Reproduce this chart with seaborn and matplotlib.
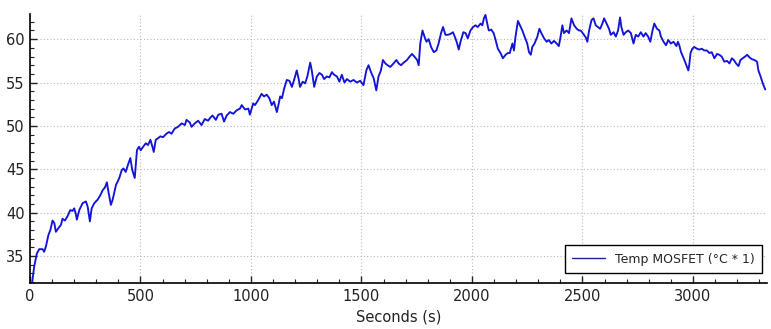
import matplotlib
matplotlib.use("Agg")
import matplotlib.pyplot as plt
from matplotlib.ticker import MultipleLocator
import seaborn as sns
import pandas as pd

seconds = [10, 19, 31, 42, 57, 64, 72, 83, 92, 102, 110, 117, 128, 140, 147, 158, 170, 182, 192, 200,
           207, 212, 223, 238, 253, 261, 271, 279, 291, 306, 318, 329, 339, 348, 355, 366, 374, 389, 397, 404,
           415, 423, 433, 443, 454, 463, 474, 484, 493, 501, 512, 524, 534, 545, 554, 560, 569, 580, 590, 602,
           617, 629, 640, 655, 670, 686, 701, 708, 723, 731, 746, 761, 776, 791, 806, 814, 826, 841, 852, 867,
           878, 890, 905, 920, 935, 950, 958, 973, 988, 995, 1010, 1018, 1033, 1048, 1059, 1071, 1083, 1094, 1104, 1117,
           1124, 1132, 1140, 1150, 1162, 1174, 1185, 1195, 1207, 1215, 1222, 1234, 1245, 1255, 1268, 1275, 1286, 1298, 1310, 1321,
           1331, 1343, 1355, 1366, 1376, 1389, 1400, 1411, 1423, 1434, 1449, 1464, 1479, 1494, 1509, 1522, 1532, 1543, 1555, 1567,
           1577, 1588, 1597, 1608, 1618, 1630, 1645, 1658, 1668, 1679, 1691, 1706, 1718, 1729, 1739, 1752, 1759, 1766, 1776, 1785,
           1794, 1804, 1815, 1827, 1839, 1849, 1860, 1869, 1880, 1890, 1902, 1914, 1925, 1933, 1940, 1948, 1961, 1971, 1981, 1993,
           2005, 2016, 2026, 2039, 2047, 2054, 2061, 2069, 2076, 2087, 2098, 2107, 2117, 2129, 2140, 2152, 2162, 2171, 2183, 2190,
           2197, 2208, 2217, 2228, 2238, 2250, 2258, 2266, 2273, 2283, 2296, 2305, 2314, 2326, 2338, 2348, 2359, 2371, 2383, 2393,
           2401, 2409, 2416, 2428, 2439, 2450, 2462, 2474, 2484, 2492, 2504, 2515, 2522, 2530, 2541, 2550, 2560, 2570, 2580, 2590,
           2598, 2609, 2620, 2628, 2641, 2651, 2661, 2670, 2676, 2686, 2696, 2707, 2719, 2731, 2741, 2752, 2764, 2776, 2786, 2797,
           2807, 2817, 2825, 2837, 2848, 2855, 2867, 2878, 2888, 2900, 2912, 2925, 2932, 2938, 2946, 2961, 2970, 2979, 2983, 2989,
           2997, 3006, 3018, 3029, 3040, 3051, 3063, 3074, 3085, 3097, 3109, 3119, 3130, 3142, 3154, 3165, 3176, 3185, 3195, 3206,
           3215, 3225, 3236, 3245, 3256, 3266, 3278, 3290, 3296, 3306, 3316, 3327]

temp_mosfet = [32.0, 33.8, 35.3, 35.8, 35.8, 35.5, 36.1, 37.4, 38.0, 39.1, 38.8, 37.8, 38.2, 38.6, 39.3, 39.1, 39.6, 40.3, 40.2, 40.5,
               39.9, 39.2, 40.3, 41.1, 41.3, 40.7, 39.0, 40.5, 41.1, 41.5, 42.0, 42.6, 42.9, 43.5, 42.4, 40.9, 41.5, 43.2, 43.6, 44.0,
               44.9, 45.1, 44.7, 45.5, 46.3, 44.9, 44.0, 47.2, 47.6, 47.2, 47.6, 48.0, 47.8, 48.4, 47.6, 47.0, 48.4, 48.6, 48.8, 48.7,
               49.1, 49.3, 49.1, 49.7, 49.9, 50.3, 50.1, 50.7, 50.4, 49.9, 50.3, 50.6, 50.1, 50.8, 50.6, 50.9, 51.2, 50.7, 51.3, 51.4,
               50.5, 51.2, 51.6, 51.4, 51.8, 52.0, 52.4, 51.9, 52.0, 51.3, 52.6, 52.4, 53.0, 53.7, 53.4, 53.6, 53.2, 52.4, 52.8, 51.6,
               52.4, 53.4, 53.2, 54.3, 55.3, 55.2, 54.5, 55.3, 56.4, 55.5, 54.5, 55.1, 54.9, 55.7, 57.3, 56.4, 54.5, 55.7, 56.1, 55.9,
               55.4, 55.7, 55.6, 56.2, 55.9, 55.7, 55.1, 55.9, 55.0, 55.4, 55.1, 55.3, 55.0, 55.2, 54.7, 56.4, 57.0, 56.2, 55.5, 54.1,
               55.7, 56.4, 57.6, 57.2, 57.0, 56.8, 57.2, 57.6, 57.2, 57.0, 57.3, 57.6, 58.0, 58.3, 58.0, 57.6, 57.0, 59.5, 61.0, 60.3,
               59.7, 60.0, 59.1, 58.5, 58.7, 59.5, 60.7, 61.4, 60.5, 60.5, 60.6, 60.8, 60.1, 59.5, 58.8, 59.7, 60.8, 60.7, 60.1, 61.0,
               61.4, 61.6, 61.4, 61.8, 61.6, 62.4, 62.8, 61.8, 61.0, 61.1, 60.7, 59.9, 58.9, 58.4, 57.8, 58.2, 58.4, 58.4, 59.5, 58.7,
               60.3, 62.1, 61.6, 61.0, 60.3, 59.5, 58.5, 58.2, 59.1, 59.5, 60.3, 61.2, 60.7, 60.1, 59.7, 59.9, 59.5, 59.8, 59.5, 59.2,
               60.3, 61.6, 60.7, 61.0, 60.7, 62.4, 61.6, 61.2, 61.0, 61.0, 60.6, 60.2, 59.7, 61.0, 62.2, 62.4, 61.6, 61.4, 61.2, 61.8,
               62.4, 61.8, 61.2, 60.5, 60.8, 60.3, 61.0, 62.5, 61.4, 60.5, 60.8, 61.0, 60.7, 59.5, 60.5, 60.3, 60.8, 60.3, 60.7, 60.3,
               59.7, 61.0, 61.8, 61.2, 61.0, 60.3, 59.7, 59.3, 59.9, 59.5, 59.7, 59.2, 59.7, 59.3, 58.5, 57.6, 57.0, 56.4, 57.0, 58.4,
               58.9, 59.1, 58.9, 58.8, 58.9, 58.7, 58.7, 58.4, 58.5, 57.8, 58.3, 58.2, 58.0, 57.4, 57.5, 57.2, 57.8, 57.6, 57.2, 56.9,
               57.6, 57.8, 58.0, 58.2, 57.9, 57.7, 57.6, 57.4, 56.4, 55.7, 54.9, 54.2]

series_label = "Temp MOSFET (\u00b0C * 1)"
x_label = "Seconds (s)"

df = pd.DataFrame({"Seconds": seconds, "Temp": temp_mosfet})

sns.set_style("ticks")
plt.rcParams["font.family"] = ["DejaVu Sans"]

fig = plt.figure(figsize=(7.71, 3.29), dpi=100)
ax = fig.add_axes([30 / 771, 1 - 283 / 329, 737 / 771, 269 / 329])

sns.lineplot(data=df, x="Seconds", y="Temp", ax=ax, color="#1414d8", linewidth=1.35,
             label=series_label)

ax.set_xlim(0, 3335)
ax.set_ylim(31.9, 62.9)
ax.xaxis.set_major_locator(MultipleLocator(500))
ax.xaxis.set_minor_locator(MultipleLocator(100))
ax.yaxis.set_major_locator(MultipleLocator(5))
ax.yaxis.set_minor_locator(MultipleLocator(1))
ax.tick_params(axis="both", which="major", direction="in", length=5, width=1,
               labelsize=10.5, colors="#222222", pad=4)
ax.tick_params(axis="both", which="minor", direction="in", length=3, width=0.8,
               colors="#222222")
ax.grid(True, which="major", linestyle=(0, (1, 2)), color="#b8b8b8", linewidth=0.8)
for s in ["top", "right"]:
    ax.spines[s].set_visible(False)
for s in ["left", "bottom"]:
    ax.spines[s].set_color("black")
    ax.spines[s].set_linewidth(1.2)

ax.set_xlabel(x_label, fontsize=10.5, color="#222222", labelpad=4)
ax.set_ylabel("")

leg = ax.legend(loc="lower right", fontsize=9, frameon=True, fancybox=False,
                framealpha=1, edgecolor="black", handlelength=2.6,
                borderpad=0.6, borderaxespad=0.0,
                bbox_to_anchor=(1 - 5 / 737, 10 / 269))
leg.get_frame().set_linewidth(1.0)
for h in leg.get_lines():
    h.set_color("#20209a")
    h.set_linewidth(1.0)

fig.savefig("out.png", dpi=100)
